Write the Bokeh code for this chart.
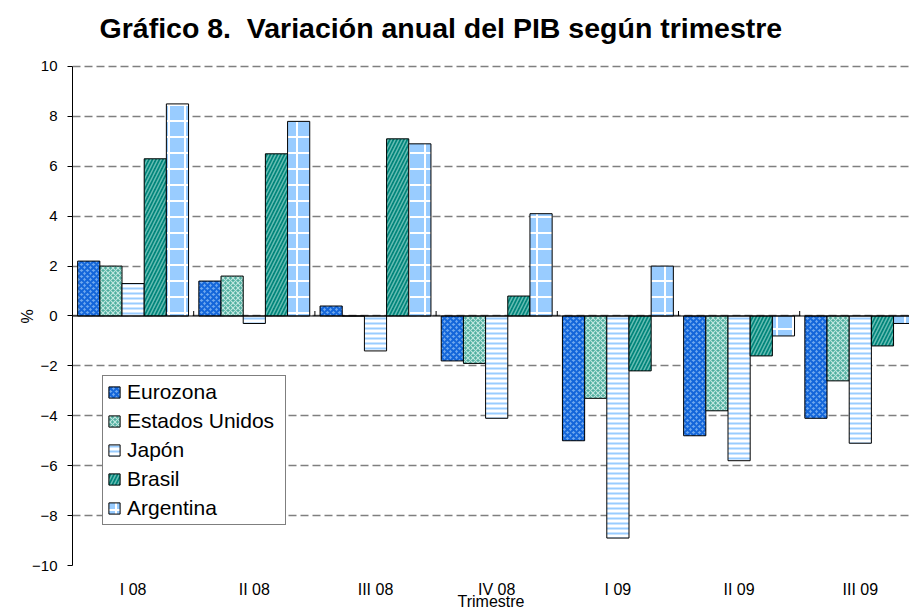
from bokeh.plotting import figure
from bokeh.models import Range1d, FixedTicker, Span, Legend, LegendItem, Label
from bokeh.embed import file_html
from bokeh.resources import INLINE

# ---------------- data ----------------
quarters = ["I 08", "II 08", "III 08", "IV 08", "I 09", "II 09", "III 09"]
series_names = ["Eurozona", "Estados Unidos", "Japón", "Brasil", "Argentina"]
eurozona = [2.2, 1.4, 0.4, -1.8, -5.0, -4.8, -4.1]
estados_unidos = [2.0, 1.6, 0.0, -1.9, -3.3, -3.8, -2.6]
japon = [1.3, -0.3, -1.4, -4.1, -8.9, -5.8, -5.1]
brasil = [6.3, 6.5, 7.1, 0.8, -2.2, -1.6, -1.2]
argentina = [8.5, 7.8, 6.9, 4.1, 2.0, -0.8, -0.3]
y_ticks = [-10, -8, -6, -4, -2, 0, 2, 4, 6, 8, 10]
title_text = "Gráfico 8.\u00a0 Variación anual del PIB según trimestre"
y_title = "%"
x_title = "Trimestre"

series_values = [eurozona, estados_unidos, japon, brasil, argentina]

# ---------------- styles ----------------
styles = [
    dict(fill_color="#6FA8EE", hatch_pattern="x", hatch_color="#1466DA", hatch_scale=6, hatch_weight=2),
    dict(fill_color="#4FAE9F", hatch_pattern="x", hatch_color="#BFE6DF", hatch_scale=5, hatch_weight=1.2),
    dict(fill_color="white", hatch_pattern="-", hatch_color="#99CCFF", hatch_scale=5, hatch_weight=2),
    dict(fill_color="#00847A", hatch_pattern="/", hatch_color="#66BDB3", hatch_scale=7, hatch_weight=1.5),
    dict(fill_color="#99CCFF", hatch_pattern="+", hatch_color="white", hatch_scale=16, hatch_weight=2),
]

FONT = "Liberation Sans"
n_groups = len(quarters)
n_series = len(series_names)
bar_w = 0.183
# the frame reaches the top of the canvas; the room above +10 holds the title
y_top = 12.645

p = figure(width=909, height=616, output_backend="svg", toolbar_location=None,
           x_range=Range1d(0, 6.906), y_range=Range1d(y_ticks[0], y_top),
           min_border_left=72, min_border_right=0, min_border_top=0, min_border_bottom=51)

p.outline_line_color = None
p.background_fill_color = "white"
p.border_fill_color = "white"

# title (drawn inside the top strip of the frame)
p.add_layout(Label(x=0.223, y=11.55, text=title_text, text_font=FONT,
                   text_font_size="28.5px", text_font_style="bold",
                   text_color="black", text_align="left", text_baseline="alphabetic"))

# grid
p.xgrid.visible = False
p.ygrid.ticker = FixedTicker(ticks=y_ticks)
p.ygrid.grid_line_color = "#7f7f7f"
p.ygrid.grid_line_dash = "8 4"
p.ygrid.grid_line_width = 1.5

# y axis
p.yaxis.ticker = FixedTicker(ticks=y_ticks)
p.yaxis.bounds = (y_ticks[0], y_ticks[-1])
p.yaxis.axis_line_color = "black"
p.yaxis.major_tick_line_color = "black"
p.yaxis.major_tick_out = 5
p.yaxis.major_tick_in = 0
p.yaxis.minor_tick_line_color = None
p.yaxis.major_label_text_font = FONT
p.yaxis.major_label_text_font_size = "15px"
p.yaxis.major_label_text_color = "black"
p.yaxis.major_label_standoff = 10
# trailing no-break spaces move the "%" down to the zero level
p.yaxis.axis_label = y_title + "\u00a0" * 15
p.yaxis.axis_label_text_font = FONT
p.yaxis.axis_label_text_font_size = "16px"
p.yaxis.axis_label_text_font_style = "normal"
p.yaxis.axis_label_text_color = "black"
p.yaxis.axis_label_standoff = -7

# x axis (category labels at group centres)
centers = [i + 0.5 for i in range(n_groups)]
p.xaxis.ticker = FixedTicker(ticks=centers)
p.xaxis.major_label_overrides = {c: q for c, q in zip(centers, quarters)}
p.xaxis.axis_line_color = None
p.xaxis.major_tick_line_color = None
p.xaxis.major_tick_out = 0
p.xaxis.major_tick_in = 0
p.xaxis.minor_tick_line_color = None
p.xaxis.major_label_text_font = FONT
p.xaxis.major_label_text_font_size = "16px"
p.xaxis.major_label_text_color = "black"
p.xaxis.major_label_standoff = 15
p.xaxis.axis_label = x_title
p.xaxis.axis_label_text_font = FONT
p.xaxis.axis_label_text_font_size = "16px"
p.xaxis.axis_label_text_font_style = "normal"
p.xaxis.axis_label_text_color = "black"
p.xaxis.axis_label_standoff = -8

# bars
items = []
for k, (name, vals, st) in enumerate(zip(series_names, series_values, styles)):
    xs = [i + 0.5 + (k - (n_series - 1) / 2) * bar_w for i in range(n_groups)]
    r = p.vbar(x=xs, top=vals, bottom=0, width=bar_w,
               line_color="black", line_width=1, **st)
    items.append(LegendItem(label=name, renderers=[r]))

# zero line and category separators
p.add_layout(Span(location=0, dimension="width", line_color="black", line_width=1))
bounds = list(range(1, n_groups))
p.segment(x0=bounds, y0=[0] * len(bounds), x1=bounds, y1=[0.2] * len(bounds),
          line_color="black", line_width=1)

legend = Legend(items=items, location=(30, 40))
legend.label_text_font = FONT
legend.label_text_font_size = "21px"
legend.label_text_color = "black"
legend.glyph_width = 14
legend.glyph_height = 14
legend.label_height = 24
legend.label_width = 154
legend.label_standoff = 6
legend.spacing = 5
legend.padding = 4
legend.margin = 0
legend.border_line_color = "black"
legend.border_line_width = 1
legend.background_fill_color = "white"
legend.background_fill_alpha = 1
p.add_layout(legend)

open("out.html", "w").write(file_html(p, INLINE))
